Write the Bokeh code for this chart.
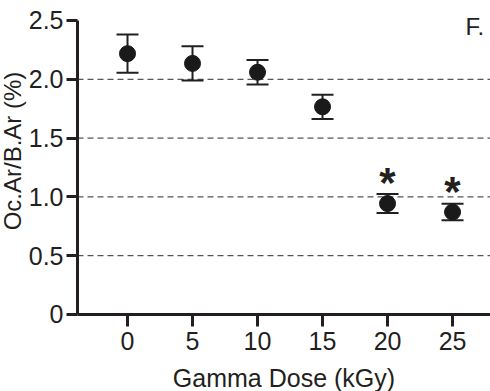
import math
from bokeh.plotting import figure
from bokeh.models import (ColumnDataSource, Whisker, TeeHead, Label, Range1d,
                          FixedTicker)
from bokeh.core.properties import value
from bokeh.embed import file_html
from bokeh.resources import INLINE

# ---- data ----
dose = [0, 5, 10, 15, 20, 25]
mean = [2.218, 2.135, 2.06, 1.766, 0.943, 0.871]
err = [0.162, 0.146, 0.104, 0.103, 0.081, 0.070]
significant = [False, False, False, False, True, True]
x_ticks = [0, 5, 10, 15, 20, 25]
y_ticks = [0, 0.5, 1.0, 1.5, 2.0, 2.5]
y_tick_labels = ["0", "0.5", "1.0", "1.5", "2.0", "2.5"]
grid_levels = [0.5, 1.0, 1.5, 2.0]
x_title = "Gamma Dose (kGy)"
y_title = "Oc.Ar/B.Ar (%)"
panel_tag = "F."

# axis extents (data units)
X_AXIS_START, X_END = -3.846, 27.92
Y_AXIS_TOP = 2.5

INK = "#231f20"
FONT = "Liberation Sans"

upper = [m + e for m, e in zip(mean, err)]
lower = [m - e for m, e in zip(mean, err)]
src = ColumnDataSource(dict(dose=dose, mean=mean, upper=upper, lower=lower))

# the frame covers the whole canvas; both axes are pinned inside it
p = figure(width=490, height=391, output_backend="svg", toolbar_location=None,
           x_range=Range1d(-9.769, X_END), y_range=Range1d(-0.6548, 2.670),
           min_border_left=0, min_border_right=0, min_border_top=0,
           min_border_bottom=0)
p.outline_line_color = None
p.background_fill_color = "white"
p.border_fill_color = "white"
p.xgrid.visible = False
p.ygrid.visible = False

# dashed reference lines starting at the y axis
n = len(grid_levels)
p.segment(x0=[X_AXIS_START] * n, y0=grid_levels, x1=[X_END] * n,
          y1=grid_levels, line_color="#2b2b2b", line_dash="6 4",
          line_width=1, level="underlay")

# axes
for ax in (p.xaxis[0], p.yaxis[0]):
    ax.axis_line_color = INK
    ax.axis_line_width = 3
    ax.major_tick_line_color = INK
    ax.major_tick_line_width = 3
    ax.minor_tick_line_color = None
    ax.major_label_text_font = FONT
    ax.major_label_text_font_size = "25px"
    ax.major_label_text_color = INK
    ax.axis_label_text_font = FONT
    ax.axis_label_text_font_style = "normal"
    ax.axis_label_text_color = INK

p.xaxis.fixed_location = 0
p.xaxis.bounds = (X_AXIS_START, X_END)
p.xaxis.ticker = FixedTicker(ticks=x_ticks)
p.xaxis.major_tick_out = 12
p.xaxis.major_tick_in = 0
p.xaxis.major_label_standoff = 6
p.xaxis.axis_label = x_title
p.xaxis.axis_label_text_font_size = "25px"
p.xaxis.axis_label_standoff = 10

p.yaxis.fixed_location = X_AXIS_START
p.yaxis.bounds = (0, Y_AXIS_TOP)
p.yaxis.ticker = FixedTicker(ticks=y_ticks)
p.yaxis.major_label_overrides = {t: s for t, s in zip(y_ticks, y_tick_labels)}
p.yaxis.major_tick_out = 11
p.yaxis.major_tick_in = 0
p.yaxis.major_label_standoff = 3

# y title
p.add_layout(Label(x=-8.846, y=1.39, text=y_title, text_font=FONT,
                   text_font_size="24px", text_color=INK, angle=math.pi / 2,
                   text_align="center", text_baseline="middle"))

# error bars
w = Whisker(base="dose", upper="upper", lower="lower", source=src,
            line_color=INK, line_width=2,
            upper_head=TeeHead(size=22, line_color=INK, line_width=2),
            lower_head=TeeHead(size=22, line_color=INK, line_width=2))
p.add_layout(w)

# points
p.scatter("dose", "mean", source=src, size=16, color="#1a1a1a")

# significance stars
sx = [d for d, s in zip(dose, significant) if s]
sy = [u for u, s in zip(upper, significant) if s]
p.text(x=sx, y=sy, text=["*"] * len(sx), text_font_size="42px",
       text_font_style="bold", text_align="center",
       text_baseline="alphabetic", y_offset=-12, text_color=INK,
       text_font=value(FONT))

# panel tag
p.add_layout(Label(x=26.0, y=2.445, text=panel_tag, text_font=FONT,
                   text_font_size="24px", text_color=INK,
                   text_baseline="middle", text_align="left"))

open("out.html", "w").write(file_html(p, INLINE))
